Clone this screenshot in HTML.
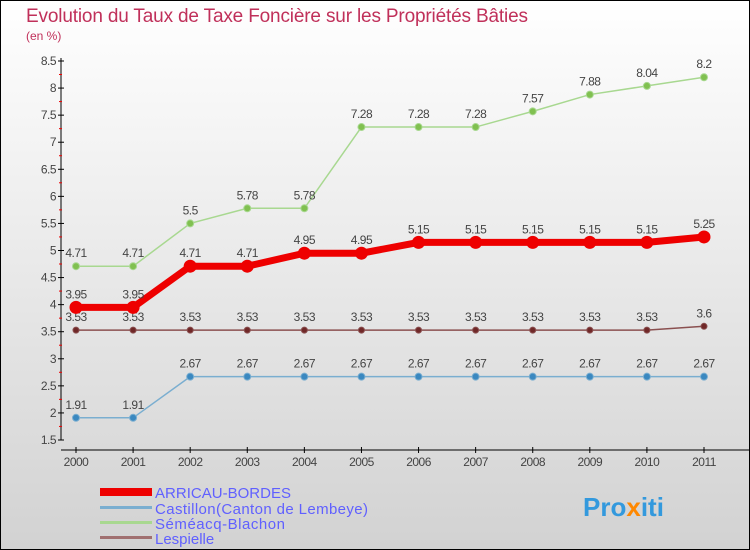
<!DOCTYPE html>
<html><head><meta charset="utf-8"><style>
body{margin:0}
svg{display:block;font-family:"Liberation Sans",sans-serif}
</style></head><body>
<svg id="c" width="750" height="550" viewBox="0 0 750 550">
<defs><linearGradient id="bg" x1="0" y1="0" x2="0" y2="1"><stop offset="0" stop-color="#ffffff"/><stop offset="1" stop-color="#d2d2d2"/></linearGradient></defs>
<rect x="0.5" y="0.5" width="749" height="549" fill="url(#bg)" stroke="#000"/>
<text x="26" y="22" font-size="19" fill="#c0305a" textLength="502">Evolution du Taux de Taxe Foncière sur les Propriétés Bâties</text>
<text x="26" y="40" font-size="12" fill="#c0305a">(en %)</text>
<g id="axes"></g><g id="series"></g>
<g>
<rect x="100" y="488" width="52" height="8" fill="#ee0000"/>
<text x="155" y="498" font-size="15" fill="#6060ff" textLength="136">ARRICAU-BORDES</text>
<rect x="100" y="506" width="52" height="3" fill="#7aaed0"/>
<text x="155" y="514" font-size="15" fill="#6060ff" textLength="213">Castillon(Canton de Lembeye)</text>
<rect x="100" y="521" width="52" height="3" fill="#a8d890"/>
<text x="155" y="529" font-size="15" fill="#6060ff" textLength="130">Séméacq-Blachon</text>
<rect x="100" y="536" width="52" height="3" fill="#a07070"/>
<text x="155" y="544" font-size="15" fill="#6060ff">Lespielle</text>
</g>
<text x="583" y="516" font-size="26" font-weight="bold" fill="#3399dd">Pro<tspan fill="#ff8800">x</tspan>iti</text>
</svg>
<script>
const years=[2000,2001,2002,2003,2004,2005,2006,2007,2008,2009,2010,2011];
const arricau=[3.95,3.95,4.71,4.71,4.95,4.95,5.15,5.15,5.15,5.15,5.15,5.25];
const castillon=[1.91,1.91,2.67,2.67,2.67,2.67,2.67,2.67,2.67,2.67,2.67,2.67];
const semeacq=[4.71,4.71,5.5,5.78,5.78,7.28,7.28,7.28,7.57,7.88,8.04,8.2];
const lespielle=[3.53,3.53,3.53,3.53,3.53,3.53,3.53,3.53,3.53,3.53,3.53,3.6];
const yTicks=[1.5,2,2.5,3,3.5,4,4.5,5,5.5,6,6.5,7,7.5,8,8.5];
const NS="http://www.w3.org/2000/svg";
const x=i=>76+i*(704-76)/11;
const y=v=>440-(v-1.5)*(440-61)/7;
function mk(tag,at,parent){const e=document.createElementNS(NS,tag);for(const k in at)e.setAttribute(k,at[k]);parent.appendChild(e);return e;}
const ax=document.getElementById('axes'),sg=document.getElementById('series');
let l=mk('line',{x1:61,y1:58,x2:61,y2:440,stroke:'#000'},ax);


l=mk('line',{x1:61,y1:450,x2:750,y2:450,stroke:'#000'},ax);


yTicks.forEach(v=>{
 const t=mk('line',{x1:58,y1:y(v),x2:64,y2:y(v),stroke:'#000'},ax);
 
 
 if(v!==1.5){const m=mk('line',{x1:59,y1:y(v)+13.5,x2:62,y2:y(v)+13.5,stroke:'#e00'},ax);}
 const tx=mk('text',{x:56,y:y(v)+4,'font-size':12,fill:'#444','text-anchor':'end','letter-spacing':'-0.5'},ax);
 tx.textContent=String(v);
 
 
});
years.forEach((yr,i)=>{
 const t=mk('line',{x1:x(i),y1:447,x2:x(i),y2:453,stroke:'#000'},ax);
 
 
 const tx=mk('text',{x:x(i),y:466,'font-size':12,fill:'#444','text-anchor':'middle','letter-spacing':'-0.5'},ax);
 tx.textContent=yr;
 
 
});
function series(vals,color,dot,w,r,name){
 const g=mk('g',{},sg);
 
 
 const p=mk('polyline',{points:vals.map((v,i)=>x(i)+','+y(v)).join(' '),fill:'none',stroke:color,'stroke-width':w},g);
 
 
 vals.forEach((v,i)=>{
  const c=mk('circle',{cx:x(i),cy:y(v),r:r,fill:dot,stroke:color,'stroke-width':1},g);
  
  
  const t=mk('text',{x:x(i),y:y(v)-9,'font-size':12,fill:'#444','text-anchor':'middle','letter-spacing':'-0.5'},g);
  t.textContent=String(v);
  
  
 });
}
series(castillon,'#7aaed0','#3a88c0',1.5,3.5,'castillon');
series(lespielle,'#8a5050','#702828',1.5,3,'lespielle');
series(semeacq,'#a8d890','#80c050',1.5,3.5,'semeacq');
series(arricau,'#ee0000','#ee0000',7,6,'arricau');
</script>
</body></html>
